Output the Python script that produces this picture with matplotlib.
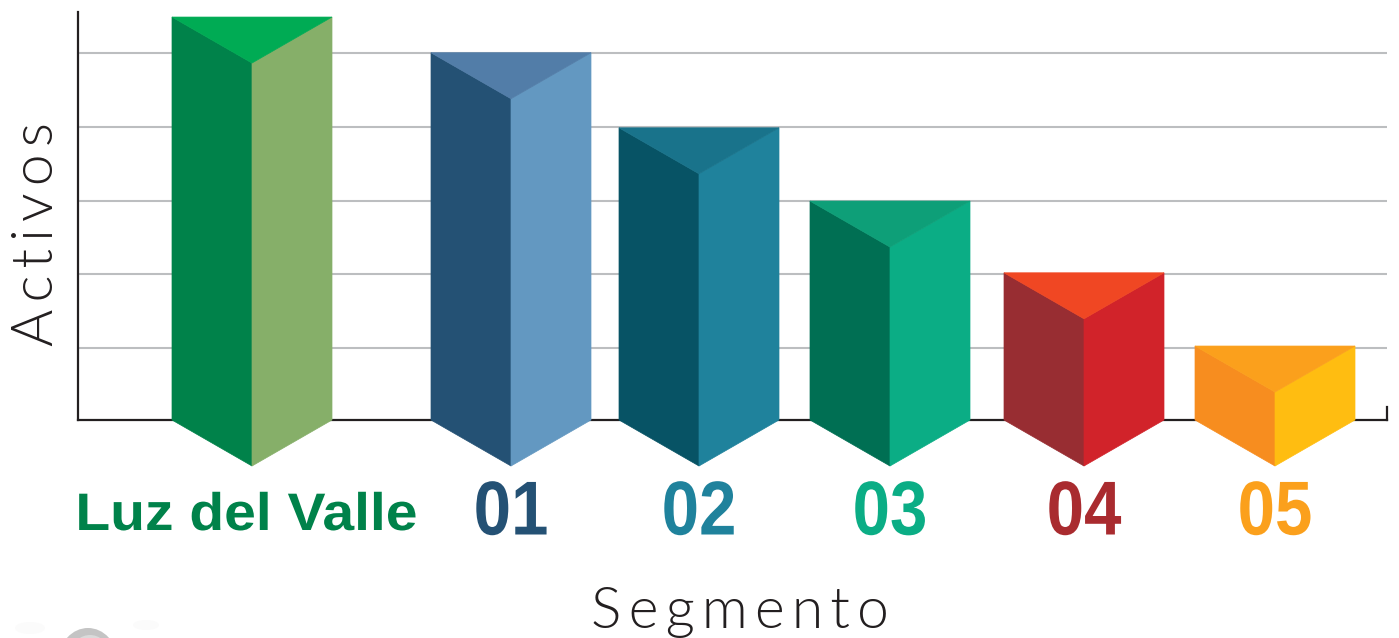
import matplotlib
matplotlib.use("Agg")
import matplotlib.pyplot as plt
from matplotlib import font_manager
from matplotlib.patches import Polygon, Ellipse
from matplotlib.patheffects import AbstractPathEffect
from matplotlib.transforms import Affine2D

# data
segments = ["Luz del Valle", "01", "02", "03", "04", "05"]
activos = [5.475, 4.99, 3.97, 2.975, 2.0, 1.005]
left_colors = ["#00824A", "#245174", "#075365", "#006F53", "#982D32", "#F78D1F"]
right_colors = ["#86AF69", "#6398C1", "#1F829C", "#0BAD85", "#D1232A", "#FFBD11"]
top_colors = ["#00AB54", "#527DA8", "#19738B", "#0E9F78", "#F04723", "#FBA01C"]
label_colors = ["#00824A", "#245174", "#1F829C", "#0BAD85", "#A92B2F", "#FBA01C"]
grid_values = [0.98, 1.98, 2.98, 3.98, 4.98]

W, H = 1399, 638
x_left, x_right, y_base, y_top = 78, 1387, 420, 12
px_per_unit = 73.6
centers = [252, 511, 699, 890, 1084, 1275]
half_w = 80
depth = 46 / px_per_unit


class SqueezeX(AbstractPathEffect):
    # matplotlib has no condensed text option, so scale the glyphs around cx
    def __init__(self, cx, factor):
        super().__init__()
        self.cx = cx
        self.factor = factor

    def draw_path(self, renderer, gc, tpath, affine, rgbFace=None):
        squeeze = Affine2D().translate(-self.cx, 0).scale(self.factor, 1).translate(self.cx, 0)
        renderer.draw_path(gc, tpath, affine + squeeze, rgbFace)


def lato_light():
    for f in font_manager.fontManager.ttflist:
        if f.fname.endswith("Lato-Light.ttf"):
            return font_manager.FontProperties(fname=f.fname, size=41)
    return font_manager.FontProperties(family="Lato", size=41)


fig = plt.figure(figsize=(W / 100, H / 100), dpi=100)
ax = fig.add_axes([x_left / W, 1 - y_base / H, (x_right - x_left) / W, (y_base - y_top) / H])
ax.set_xlim(x_left, x_right)
ax.set_ylim(0, (y_base - y_top) / px_per_unit)

for s in ["top", "right"]:
    ax.spines[s].set_visible(False)
for s in ["left", "bottom"]:
    ax.spines[s].set_linewidth(1.6)
    ax.spines[s].set_color("#231F20")
ax.set_xticks([])
ax.set_yticks([])

for g in grid_values:
    ax.axhline(g, color="#BCBEC0", lw=1.5, zorder=1)
# small end tick at the right of the base line
ax.plot([x_right - 0.5, x_right - 0.5], [0, 0.18], color="#231F20", lw=1.6, clip_on=False, zorder=1)

for i, v in enumerate(activos):
    c = centers[i]
    l = c - half_w
    r = c + half_w
    ax.add_patch(Polygon([(l, v), (c, v - depth), (c, -depth), (l, 0)], fc=left_colors[i],
                         ec=left_colors[i], lw=0.5, clip_on=False, zorder=3))
    ax.add_patch(Polygon([(r, v), (c, v - depth), (c, -depth), (r, 0)], fc=right_colors[i],
                         ec=right_colors[i], lw=0.5, clip_on=False, zorder=3))
    ax.add_patch(Polygon([(l, v), (r, v), (c, v - depth)], fc=top_colors[i],
                         ec=top_colors[i], lw=0.5, clip_on=False, zorder=4))

# coloured segment names under the bars
fig.text(246 / W, 1 - 516 / H, segments[0], color=label_colors[0], fontsize=38, fontweight="bold",
         family="Liberation Sans", ha="center", va="center", path_effects=[SqueezeX(246, 1.08)])
for i in range(1, len(segments)):
    fig.text(centers[i] / W, 1 - 515 / H, segments[i], color=label_colors[i], fontsize=55,
             fontweight="bold", family="Liberation Sans", ha="center", va="center",
             path_effects=[SqueezeX(centers[i], 0.88)])

fig.text(740 / W, 1 - 612 / H, "S\u2009e\u2009g\u2009m\u2009e\u2009n\u2009t\u2009o", color="#231F20",
         fontproperties=lato_light(), ha="center", va="center")
fig.text(38 / W, 1 - 234 / H, "A\u2009c\u2009t\u2009i\u2009v\u2009o\u2009s", color="#231F20",
         fontproperties=lato_light(), ha="center", va="center", rotation=90)

# top of the faded logo ball, cut off by the bottom edge
bg = fig.add_axes([0, 0, 1, 1], zorder=-1)
bg.set_xlim(0, W)
bg.set_ylim(H, 0)
bg.axis("off")
bg.add_patch(Ellipse((88, 660), 58, 64, fc="#C4C4C4", ec="none"))
bg.add_patch(Ellipse((90, 650), 34, 30, fc="#DADADA", ec="none"))
bg.add_patch(Ellipse((30, 628), 30, 12, fc="#FBFBFB", ec="none"))
bg.add_patch(Ellipse((146, 625), 26, 10, fc="#FBFBFB", ec="none"))

fig.savefig("out.png", dpi=100)
